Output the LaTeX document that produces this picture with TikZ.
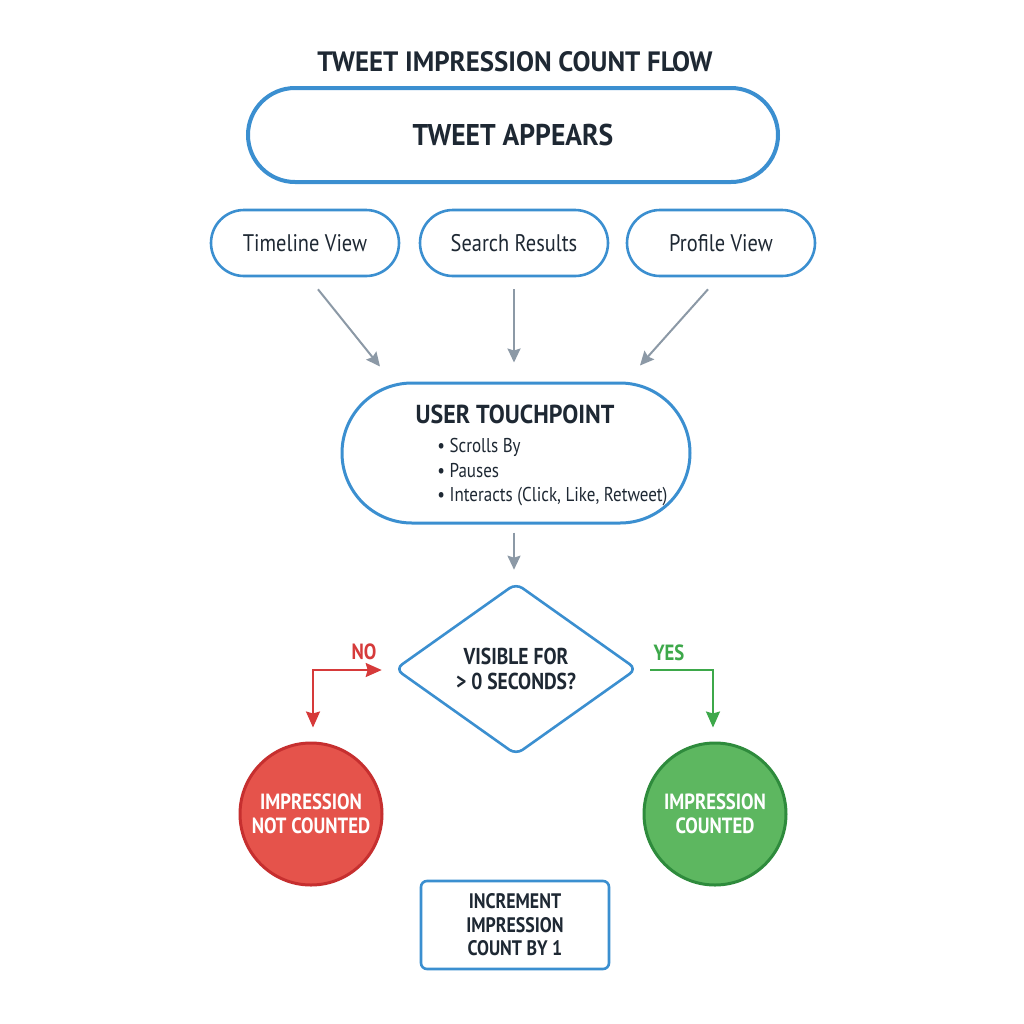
\documentclass[tikz,border=0pt]{standalone}
\usepackage{fontspec}
\setmainfont{PT Sans}
\newfontfamily\fA[FakeStretch=0.96]{PT Sans}
\newfontfamily\fB[FakeStretch=0.92]{PT Sans}
\newfontfamily\fC[FakeStretch=0.85]{PT Sans}
\usetikzlibrary{shapes.geometric,arrows.meta,calc}
\definecolor{bl}{HTML}{3B8FD0}
\definecolor{tx}{HTML}{1E2833}
\definecolor{gr}{HTML}{8C99A6}
\definecolor{rl}{HTML}{D63A3A}
\definecolor{rf}{HTML}{E5534B}
\definecolor{rb}{HTML}{C62F2F}
\definecolor{gl}{HTML}{3DA84A}
\definecolor{gf}{HTML}{5DB760}
\definecolor{gb}{HTML}{2E8B3C}
\tikzset{
  pill/.style={draw=bl, line width=1.3pt, fill=white, text=tx, align=center, inner sep=0pt},
  garrow/.style={draw=gr, line width=1pt, -{Stealth[length=7pt,width=6.5pt,inset=1pt]}},
  circ/.style={circle, line width=1.5pt, minimum size=71pt, inner sep=0pt, text=white, align=center,
    font=\fC\fontsize{11pt}{12pt}\selectfont\bfseries},
  lbl/.style={font=\fC\fontsize{11pt}{12pt}\selectfont\bfseries},
}
\begin{document}
\begin{tikzpicture}[x=0.5pt,y=-0.5pt]
\useasboundingbox[fill=white] (0,0) rectangle (1024,1024);
\node[text=tx, font=\fA\fontsize{14pt}{16pt}\selectfont\bfseries] (title) at (515,62) {TWEET IMPRESSION COUNT FLOW};
\node[pill, line width=2pt, minimum width=265pt, minimum height=47pt, rounded corners=23.5pt,
  font=\fB\fontsize{15pt}{17pt}\selectfont\bfseries] (tw) at (513,135) {TWEET APPEARS};
\foreach \n/\x/\t in {tl/305/Timeline View, sr/514/Search Results, pv/721/Profile View}{
  \node[pill, minimum width=94pt, minimum height=33pt, rounded corners=16.5pt,
    font=\fC\fontsize{12pt}{14pt}\selectfont] (\n) at (\x,243) {\t};
}
\node[pill, line width=1.5pt, minimum width=174pt, minimum height=70pt, rounded corners=35pt] (ut) at (516,453) {};
\node[text=tx, font=\fB\fontsize{13pt}{15pt}\selectfont\bfseries] (utt) at (515,414) {USER TOUCHPOINT};
\node[text=tx, align=left, anchor=north west, inner sep=0pt, font=\fC\fontsize{10pt}{12.25pt}\selectfont] (utb) at (437,438)
  {• Scrolls By\\ • Pauses\\ • Interacts (Click, Like, Retweet)};
\draw[garrow] ($(tl.south)+(13,12)$) -- ($(ut.north)+(-136,-15)$);
\draw[garrow] ($(sr.south)+(0,12)$) -- ($(ut.north)+(-2,-19)$);
\draw[garrow] ($(pv.south)+(-13,12)$) -- ($(ut.north)+(124,-16)$);
\node[diamond, shape aspect=1.42, draw=bl, line width=1.3pt, rounded corners=4pt, minimum width=121pt, minimum height=86pt,
  inner sep=0pt, text=tx, align=center, font=\fC\fontsize{11.5pt}{12.5pt}\selectfont\bfseries] (dm) at (516,669)
  {VISIBLE FOR\\ > 0 SECONDS?};
\draw[garrow] ($(ut.south)+(-2,8)$) -- ($(dm.north)+(-2,-12)$);
\node[circ, fill=rf, draw=rb] (nc) at (311,814) {IMPRESSION\\ NOT COUNTED};
\node[circ, fill=gf, draw=gb] (cc) at (715,814) {IMPRESSION\\ COUNTED};
\draw[draw=rl, line width=1pt, {Stealth[length=8pt,width=7pt,inset=1pt]}-{Stealth[length=8pt,width=7pt,inset=1pt]}]
  ($(nc.north)+(2,-14)$) |- ($(dm.west)+(-12,1)$);
\draw[draw=gl, line width=1pt, -{Stealth[length=8pt,width=7pt,inset=1pt]}]
  ($(dm.east)+(12,1)$) -| ($(cc.north)+(-2,-14)$);
\node[lbl, text=rl] (no) at (364,652) {NO};
\node[lbl, text=gl] (yes) at (669,653) {YES};
\node[draw=bl, line width=1.3pt, rounded corners=3pt, fill=white, minimum width=94pt, minimum height=44pt,
  inner sep=0pt, text=tx, align=center, font=\fC\fontsize{10.5pt}{11.75pt}\selectfont\bfseries] (inc) at (515,925)
  {INCREMENT\\ IMPRESSION\\ COUNT BY 1};
\end{tikzpicture}
\end{document}
